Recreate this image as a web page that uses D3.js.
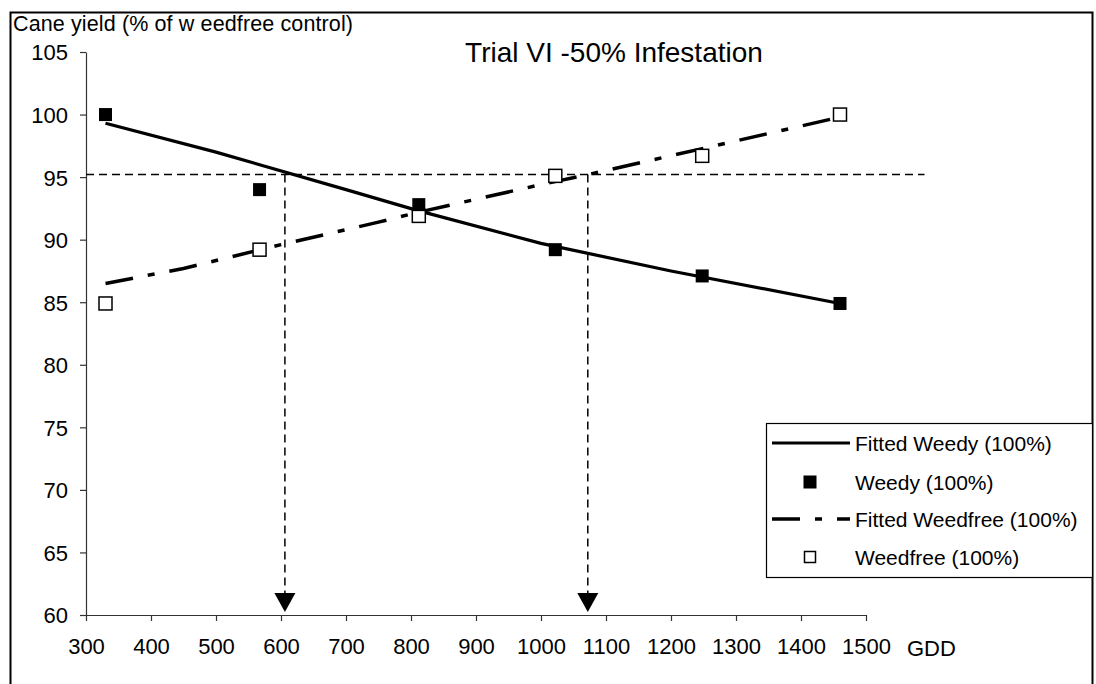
<!DOCTYPE html>
<html>
<head>
<meta charset="utf-8">
<script src="https://cdn.jsdelivr.net/npm/d3@7/dist/d3.min.js"></script>
<style>
  html, body { margin: 0; padding: 0; background: #fff; }
  svg { display: block; }
  text { font-family: "Liberation Sans", Arial, sans-serif; fill: #000; }
</style>
</head>
<body>
<svg id="chart" width="1096" height="684"></svg>
<script>
// Growing degree days at each sampling time
const gdd = [330, 567, 812, 1022, 1248, 1460];
// Observed yields (% of weed-free control)
const weedy = [100.0, 94.0, 92.8, 89.2, 87.1, 84.9];
const weedfree = [84.9, 89.2, 91.9, 95.1, 96.7, 100.0];
// Fitted response curves
const fittedWeedyX = [330, 500, 700, 812, 1000, 1200, 1460];
const fittedWeedyY = [99.3, 97.0, 94.0, 92.3, 89.7, 87.5, 84.9];
const fittedWeedfreeX = [330, 450, 600, 750, 812, 1000, 1072, 1250, 1460];
const fittedWeedfreeY = [86.5, 87.7, 89.6, 91.4, 92.2, 94.4, 95.2, 97.3, 99.8];
// 5% yield-loss threshold and the critical period limits
const thresholdYield = 95.2;
const thresholdXEnd = 1590;
const criticalGdd = [606, 1072];
// Axis ticks
const xTicks = [300, 400, 500, 600, 700, 800, 900, 1000, 1100, 1200, 1300, 1400, 1500];
const yTicks = [60, 65, 70, 75, 80, 85, 90, 95, 100, 105];
const legendLabels = ["Fitted Weedy (100%)", "Weedy (100%)", "Fitted Weedfree (100%)", "Weedfree (100%)"];

const svg = d3.select("#chart");

// outer frame
svg.append("rect")
  .attr("x", 10.5).attr("y", 12.5)
  .attr("width", 1082).attr("height", 690)
  .attr("fill", "none").attr("stroke", "#000").attr("stroke-width", 2);

const x = d3.scaleLinear().domain([300, 1500]).range([86, 866]);
const y = d3.scaleLinear().domain([60, 105]).range([615, 52]);

// axes
const xAxis = d3.axisBottom(x).tickValues(xTicks).tickFormat(d3.format("d"))
  .tickSize(6).tickSizeOuter(0).tickPadding(17);
const yAxis = d3.axisLeft(y).tickValues(yTicks).tickFormat(d3.format("d"))
  .tickSize(6).tickSizeOuter(0).tickPadding(12);

const gx = svg.append("g").attr("transform", "translate(0,615)").call(xAxis);
const gy = svg.append("g").attr("transform", "translate(86,0)").call(yAxis);
[gx, gy].forEach(g => {
  g.select(".domain").attr("stroke", "#333").attr("stroke-width", 1.2);
  g.selectAll(".tick line").attr("stroke", "#333").attr("stroke-width", 1.2);
  g.selectAll(".tick text").style("font-size", "22px").attr("font-family", "Liberation Sans, Arial, sans-serif");
});
gy.selectAll(".tick text").attr("dy", "0.36em");

// axis titles
svg.append("text").attr("x", 13).attr("y", 31)
  .style("font-size", "21.5px")
  .attr("textLength", 340).attr("lengthAdjust", "spacing")
  .text("Cane yield (% of w eedfree control)");
svg.append("text").attr("x", 907).attr("y", 656)
  .style("font-size", "22px").text("GDD");

// title
svg.append("text").attr("x", 614).attr("y", 62)
  .attr("text-anchor", "middle")
  .style("font-size", "28px").text("Trial VI -50% Infestation");

// threshold reference lines
svg.append("line")
  .attr("x1", x(300)).attr("x2", x(thresholdXEnd))
  .attr("y1", y(thresholdYield)).attr("y2", y(thresholdYield))
  .attr("stroke", "#000").attr("stroke-width", 1.5).attr("stroke-dasharray", "8,5");

const arrowH = 19, arrowW = 21;
criticalGdd.forEach(g => {
  svg.append("line")
    .attr("x1", x(g)).attr("x2", x(g))
    .attr("y1", y(thresholdYield)).attr("y2", y(60) - arrowH)
    .attr("stroke", "#000").attr("stroke-width", 1.5).attr("stroke-dasharray", "8,5");
  const tipX = x(g), tipY = y(60) - 3;
  svg.append("path")
    .attr("d", `M${tipX - arrowW / 2},${tipY - arrowH} L${tipX + arrowW / 2},${tipY - arrowH} L${tipX},${tipY} Z`)
    .attr("fill", "#000");
});

// fitted curves
const line = d3.line().x(d => x(d[0])).y(d => y(d[1]));
svg.append("path")
  .datum(d3.zip(fittedWeedyX, fittedWeedyY))
  .attr("d", line)
  .attr("fill", "none").attr("stroke", "#000").attr("stroke-width", 3.2);
svg.append("path")
  .datum(d3.zip(fittedWeedfreeX, fittedWeedfreeY))
  .attr("d", line)
  .attr("fill", "none").attr("stroke", "#000").attr("stroke-width", 3.5)
  .attr("stroke-dasharray", "28,15,7,15");

// observed points
const ms = 13;
svg.append("g").selectAll("rect")
  .data(d3.zip(gdd, weedfree))
  .join("rect")
  .attr("x", d => x(d[0]) - ms / 2).attr("y", d => y(d[1]) - ms / 2)
  .attr("width", ms).attr("height", ms)
  .attr("fill", "#fff").attr("stroke", "#000").attr("stroke-width", 1.5);
svg.append("g").selectAll("rect")
  .data(d3.zip(gdd, weedy))
  .join("rect")
  .attr("x", d => x(d[0]) - ms / 2).attr("y", d => y(d[1]) - ms / 2)
  .attr("width", ms).attr("height", ms)
  .attr("fill", "#000");

// legend
const lg = svg.append("g");
lg.append("rect").attr("x", 766.5).attr("y", 423.5).attr("width", 326).attr("height", 154)
  .attr("fill", "#fff").attr("stroke", "#000").attr("stroke-width", 1.2);
const rowY = [443, 482, 519, 557];
lg.append("line").attr("x1", 772).attr("x2", 850).attr("y1", rowY[0]).attr("y2", rowY[0])
  .attr("stroke", "#000").attr("stroke-width", 3.2);
lg.append("rect").attr("x", 810 - ms / 2).attr("y", rowY[1] - ms / 2).attr("width", ms).attr("height", ms)
  .attr("fill", "#000");
lg.append("line").attr("x1", 772).attr("x2", 850).attr("y1", rowY[2]).attr("y2", rowY[2])
  .attr("stroke", "#000").attr("stroke-width", 3.5).attr("stroke-dasharray", "28,15,7,15");
lg.append("rect").attr("x", 810 - 5.5).attr("y", rowY[3] - 5.5).attr("width", 11).attr("height", 11)
  .attr("fill", "#fff").attr("stroke", "#000").attr("stroke-width", 1.5);
legendLabels.forEach((t, i) => {
  lg.append("text").attr("x", 855).attr("y", rowY[i] + 7.5)
    .style("font-size", "21px").text(t);
});
</script>
</body>
</html>
